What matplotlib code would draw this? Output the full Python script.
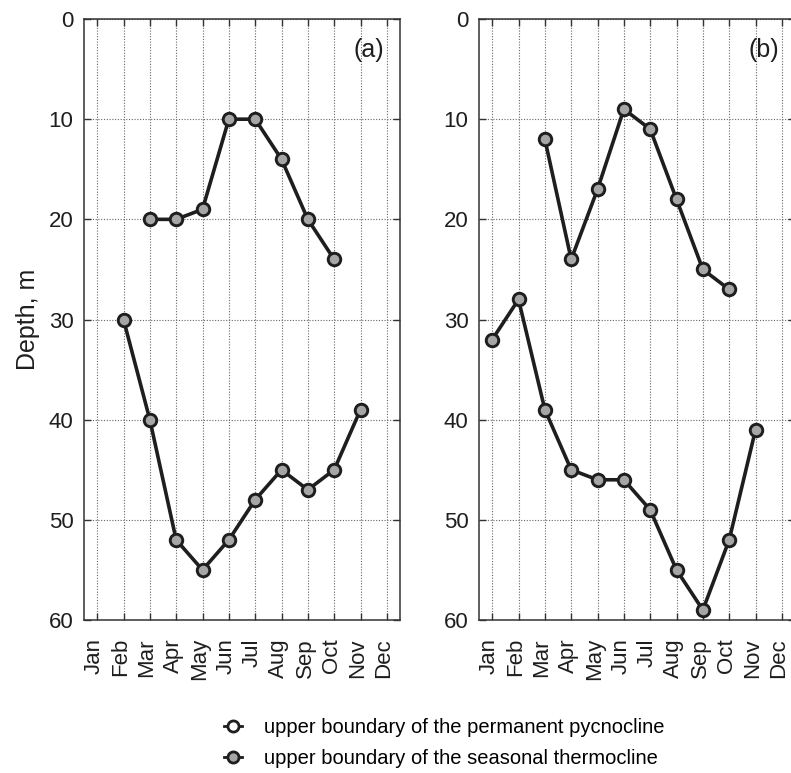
import matplotlib
matplotlib.use("Agg")
import matplotlib.pyplot as plt
import matplotlib.transforms as mtransforms
from matplotlib.lines import Line2D

plt.rcParams['font.family'] = ['Liberation Sans', 'DejaVu Sans']

months = ['Jan', 'Feb', 'Mar', 'Apr', 'May', 'Jun',
          'Jul', 'Aug', 'Sep', 'Oct', 'Nov', 'Dec']

# panel (a): month numbers and depths, m
a_thermo_months = [3, 4, 5, 6, 7, 8, 9, 10]
a_thermo_depth = [20, 20, 19, 10, 10, 14, 20, 24]
a_pycno_months = [2, 3, 4, 5, 6, 7, 8, 9, 10, 11]
a_pycno_depth = [30, 40, 52, 55, 52, 48, 45, 47, 45, 39]

# panel (b)
b_thermo_months = [3, 4, 5, 6, 7, 8, 9, 10]
b_thermo_depth = [12, 24, 17, 9, 11, 18, 25, 27]
b_pycno_months = [1, 2, 3, 4, 5, 6, 7, 8, 9, 10, 11]
b_pycno_depth = [32, 28, 39, 45, 46, 46, 49, 55, 59, 52, 41]

depth_ticks = [0, 10, 20, 30, 40, 50, 60]

line_col = '#1e1e1e'
fill_col = '#a6a6a6'
style = dict(color=line_col, lw=2.6, marker='o', ms=9,
             mfc=fill_col, mec=line_col, mew=2.1)

fig = plt.figure(figsize=(7.91, 7.73), dpi=100)
ax_a = fig.add_axes([0.1062, 0.1979, 0.3995, 0.7775])
ax_b = fig.add_axes([0.6056, 0.1979, 0.3995, 0.7775])

# nudge month labels a little to the left of their ticks
shift = mtransforms.ScaledTranslation(-2 / 72, 0, fig.dpi_scale_trans)


def panel(ax, thermo_m, thermo_d, pycno_m, pycno_d, tag):
    ax.plot(thermo_m, thermo_d, **style, zorder=3)
    ax.plot(pycno_m, pycno_d, **style, zorder=3)
    ax.set_xlim(0.5, 12.5)
    ax.set_ylim(60, 0)
    ax.set_xticks(range(1, 13))
    ax.set_xticklabels(months, rotation=90, fontsize=16)
    ax.set_yticks(depth_ticks)
    ax.set_yticklabels([str(d) for d in depth_ticks], fontsize=16)
    ax.tick_params(direction='in', top=True, right=True, length=5,
                   width=1, color='#333333', labelcolor='#1e1e1e')
    ax.tick_params(axis='x', pad=13)
    ax.tick_params(axis='y', pad=7.5)
    for lab in ax.get_xticklabels():
        lab.set_transform(lab.get_transform() + shift)
    ax.grid(True, ls=(0, (1, 1.5)), lw=0.8, color='#666666')
    for sp in ax.spines.values():
        sp.set_color('#333333')
        sp.set_linewidth(1.1)
    ax.text(11.3, 3.1, tag, ha='center', va='center', fontsize=18,
            color='#1e1e1e')


panel(ax_a, a_thermo_months, a_thermo_depth, a_pycno_months, a_pycno_depth, '(a)')
panel(ax_b, b_thermo_months, b_thermo_depth, b_pycno_months, b_pycno_depth, '(b)')

fig.text(0.036, 0.587, 'Depth, m', rotation=90, ha='center', va='center',
         fontsize=18, color='#1e1e1e')

handles = [
    Line2D([], [], color=line_col, lw=2.0, marker='o', ms=8,
           mfc='white', mec=line_col, mew=2.0),
    Line2D([], [], color=line_col, lw=2.0, marker='o', ms=8,
           mfc=fill_col, mec=line_col, mew=2.0),
]
labels = ['upper boundary of the permanent pycnocline',
          'upper boundary of the seasonal thermocline']
fig.legend(handles, labels, loc='upper left', bbox_to_anchor=(0.283, 0.071),
           frameon=False, fontsize=14.5, handlelength=0.9,
           handletextpad=1.1, labelspacing=0.6, borderpad=0,
           borderaxespad=0)

fig.savefig('out.png', dpi=100)
